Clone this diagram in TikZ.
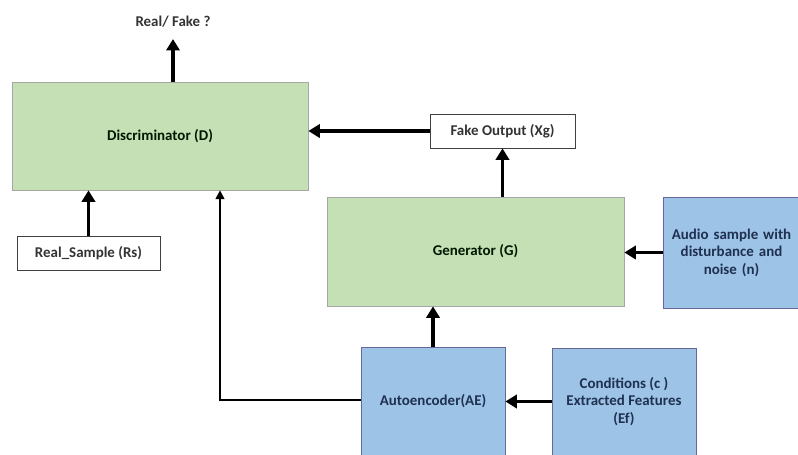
\documentclass[tikz,border=0pt]{standalone}
\usepackage{fontspec}
\setmainfont{Carlito}
\usepackage{tikz}
\usetikzlibrary{positioning,calc,arrows.meta}
\definecolor{boxgreen}{HTML}{C5E0B4}
\definecolor{boxblue}{HTML}{9DC3E6}
\definecolor{textblue}{HTML}{1F3050}
\tikzset{
    blk/.style={draw, rectangle, font=\fontsize{8.5}{10}\selectfont\bfseries, align=center, inner sep=2pt},
    greenbox/.style={blk, fill=boxgreen, draw=gray!70, text=black!85!green!60!black},
    bluebox/.style={blk, fill=boxblue, draw=gray!80!blue, text=textblue},
    whitebox/.style={blk, fill=white, draw=black!75, text=black!80},
    arr/.style={line width=1.8pt, -{Triangle[length=6.5pt,width=7.5pt]}},
    thinarr/.style={line width=1.1pt, -{Triangle[length=5pt,width=5pt]}}
}
\begin{document}
\begin{tikzpicture}
            \useasboundingbox (0,0) rectangle (15.96,-9.1);
            % blocks
            \node[greenbox, minimum width=5.92cm, minimum height=2.16cm] (disc) at (3.2,-2.72) {Discriminator (D)};
            \node[whitebox, minimum width=2.9cm, minimum height=0.68cm] (fake) at (10.05,-2.62) {Fake Output (Xg)};
            \node[greenbox, minimum width=5.94cm, minimum height=2.18cm] (gen) at (9.51,-5.03) {Generator (G)};
            \node[bluebox, minimum width=2.74cm, minimum height=2.22cm, text width=2.6cm] (audio) at (14.63,-5.05) {Audio sample with\\ disturbance and\\ noise (n)};
            \node[whitebox, minimum width=2.86cm, minimum height=0.68cm] (rs) at (1.77,-5.06) {Real\_Sample (Rs)};
            \node[bluebox, minimum width=2.88cm, minimum height=2.16cm] (ae) at (8.66,-8.02) {Autoencoder(AE)};
            \node[bluebox, minimum width=2.88cm, minimum height=2.14cm] (cond) at (12.48,-8.03) {Conditions (c )\\ Extracted Features\\ (Ef)};
            \node[font=\fontsize{8.5}{10}\selectfont\bfseries, text=black!80] (rf) at (3.46,-0.44) {Real/ Fake ?};
            \coordinate (bend) at (4.4,-8.0);
            % connectors
            \draw[arr] (disc.north -| rf) -- ([yshift=-3pt]rf.south);
            \draw[arr] (fake.west) -- (fake.west -| disc.east);
            \draw[arr] (gen.north -| fake.south) -- (fake.south);
            \draw[arr] (audio.west) -- (audio.west -| gen.east);
            \draw[arr] (rs.north) -- (rs.north |- disc.south);
            \draw[arr] (ae.north) -- (ae.north |- gen.south);
            \draw[arr] (cond.west) -- (cond.west -| ae.east);
            \draw[thinarr] (ae.west |- bend) -- (bend) -- (bend |- disc.south);
\end{tikzpicture}
\end{document}
